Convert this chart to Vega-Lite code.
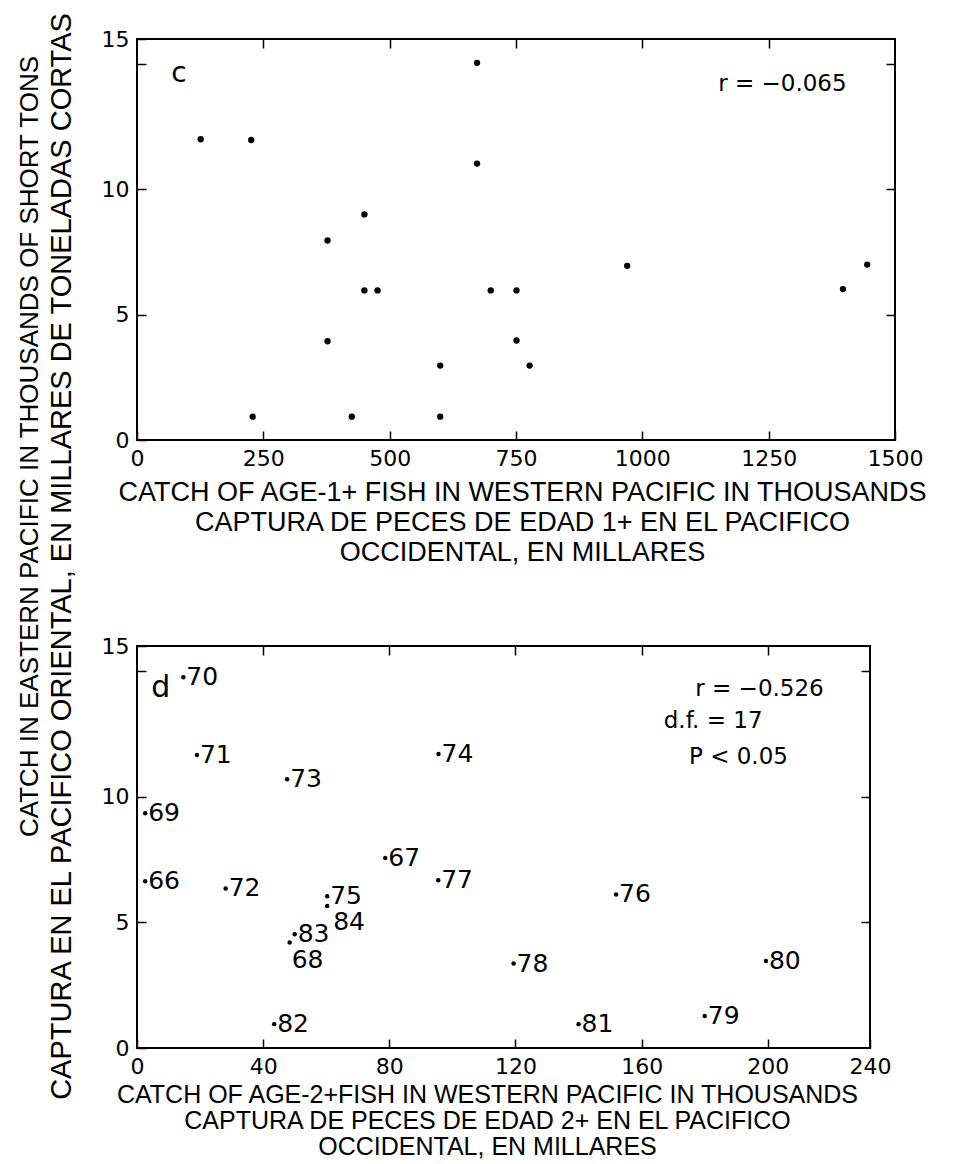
{
  "$schema": "https://vega.github.io/schema/vega-lite/v6.json",
  "background": "white",
  "autosize": {"type": "pad"},
  "padding": {"left": 14, "top": 10, "right": 0, "bottom": 0},
  "config": {
    "view": {"stroke": "black", "strokeWidth": 2},
    "axis": {
      "grid": false, "domain": false, "tickColor": "black", "tickSize": -9, "tickWidth": 1.5,
      "labelPadding": 17, "labelFont": "DejaVu Sans", "labelFontSize": 22, "labelColor": "black", "format": "d",
      "labelFlush": false,
      "titleFont": "Liberation Sans", "titleFontWeight": "normal", "titleColor": "black"
    },
    "text": {"font": "DejaVu Sans", "color": "black"}
  },
  "datasets": {
    "top": [
      {"wp": 126, "ep": 12.0}, {"wp": 226, "ep": 11.97}, {"wp": 673, "ep": 15.05}, {"wp": 673, "ep": 11.03},
      {"wp": 450, "ep": 9.0}, {"wp": 377, "ep": 7.96}, {"wp": 970, "ep": 6.95}, {"wp": 1445, "ep": 7.0},
      {"wp": 450, "ep": 5.97}, {"wp": 476, "ep": 5.97}, {"wp": 700, "ep": 5.97}, {"wp": 751, "ep": 5.97},
      {"wp": 1397, "ep": 6.02}, {"wp": 377, "ep": 3.94}, {"wp": 751, "ep": 3.97}, {"wp": 600, "ep": 2.97},
      {"wp": 777, "ep": 2.97}, {"wp": 229, "ep": 0.93}, {"wp": 425, "ep": 0.93}, {"wp": 600, "ep": 0.93}
    ],
    "topnote": [
      {"t": "c", "x": 68, "y": 14.6},
      {"t": "r = −0.065", "x": 1150, "y": 14.2}
    ],
    "bottom": [
      {"yr": "66", "wp": 2.6, "ep": 6.64}, {"yr": "67", "wp": 78.7, "ep": 7.56},
      {"yr": "68", "wp": 48.4, "ep": 4.2}, {"yr": "69", "wp": 2.6, "ep": 9.34},
      {"yr": "70", "wp": 14.7, "ep": 14.76}, {"yr": "71", "wp": 19.0, "ep": 11.66},
      {"yr": "72", "wp": 28.1, "ep": 6.35}, {"yr": "73", "wp": 47.6, "ep": 10.7},
      {"yr": "74", "wp": 95.6, "ep": 11.7}, {"yr": "75", "wp": 60.3, "ep": 6.04},
      {"yr": "76", "wp": 151.9, "ep": 6.11}, {"yr": "77", "wp": 95.5, "ep": 6.68},
      {"yr": "78", "wp": 119.4, "ep": 3.36}, {"yr": "79", "wp": 180.0, "ep": 1.27},
      {"yr": "80", "wp": 199.4, "ep": 3.46}, {"yr": "81", "wp": 140.0, "ep": 0.95},
      {"yr": "82", "wp": 43.5, "ep": 0.95}, {"yr": "83", "wp": 50.0, "ep": 4.53},
      {"yr": "84", "wp": 60.3, "ep": 5.65}
    ],
    "botnote": [
      {"t": "d", "x": 4.5, "y": 14.34},
      {"t": "r = −0.526", "x": 177, "y": 14.3},
      {"t": "d.f. = 17", "x": 167, "y": 13.0},
      {"t": "P < 0.05", "x": 175, "y": 11.57}
    ]
  },
  "bounds": "flush",
  "spacing": 206,
  "vconcat": [
    {
      "width": 758,
      "height": 401,
      "layer": [
        {
          "data": {"name": "top"},
          "mark": {"type": "circle", "size": 40, "color": "black", "opacity": 1},
          "encoding": {
            "x": {
              "field": "wp", "type": "quantitative",
              "scale": {"domain": [0, 1500], "nice": false, "zero": false},
              "axis": {
                "orient": "bottom", "values": [0, 250, 500, 750, 1000, 1250, 1500],
                "title": ["CATCH OF AGE-1+ FISH IN WESTERN PACIFIC IN THOUSANDS", "CAPTURA DE PECES DE EDAD 1+ EN EL PACIFICO", "OCCIDENTAL, EN MILLARES"],
                "titleFontSize": 27, "titleLineHeight": 30, "titlePadding": 10, "titleX": 385, "titleAnchor": "middle"
              }
            },
            "y": {
              "field": "ep", "type": "quantitative",
              "scale": {"domain": [0, 16], "nice": false, "zero": false},
              "axis": {
                "orient": "left", "values": [0, 5, 10, 15, 16],
                "labelExpr": "datum.value == 16 ? '15' : (datum.value == 15 ? '' : datum.label)",
                "title": "CATCH IN EASTERN PACIFIC IN THOUSANDS OF SHORT TONS",
                "titleFontSize": 26, "titleX": -108, "titleY": 407, "titleAngle": 270,
                "titleAlign": "center", "titleBaseline": "middle"
              }
            }
          }
        },
        {
          "data": {"name": "topnote"},
          "mark": {"type": "text", "align": "left", "baseline": "middle", "fontSize": 23},
          "encoding": {
            "x": {
              "field": "x", "type": "quantitative",
              "scale": {"domain": [0, 1500], "nice": false, "zero": false},
              "axis": {"orient": "top", "values": [250, 500, 750, 1000, 1250], "labels": false, "title": null}
            },
            "y": {
              "field": "y", "type": "quantitative",
              "scale": {"domain": [0, 16], "nice": false, "zero": false},
              "axis": {"orient": "right", "values": [5, 10, 15], "labels": false, "title": null}
            },
            "text": {"field": "t"},
            "size": {"condition": {"test": "datum.t == 'c'", "value": 28}, "value": 23}
          }
        }
      ],
      "resolve": {"axis": {"x": "independent", "y": "independent"}}
    },
    {
      "width": 733,
      "height": 402,
      "layer": [
        {
          "data": {"name": "bottom"},
          "mark": {"type": "circle", "size": 20, "color": "black", "opacity": 1},
          "encoding": {
            "x": {
              "field": "wp", "type": "quantitative",
              "scale": {"domain": [0, 232.4], "nice": false, "zero": false},
              "axis": {
                "orient": "bottom", "values": [0, 40, 80, 120, 160, 200, 232.4],
                "labelExpr": "datum.value > 230 ? '240' : datum.label",
                "title": ["CATCH OF AGE-2+FISH IN WESTERN PACIFIC IN THOUSANDS", "CAPTURA DE PECES DE EDAD 2+ EN EL PACIFICO", "OCCIDENTAL, EN MILLARES"],
                "titleFontSize": 25, "titleLineHeight": 26, "titlePadding": 5, "titleX": 350, "titleAnchor": "middle"
              }
            },
            "y": {
              "field": "ep", "type": "quantitative",
              "scale": {"domain": [0, 16], "nice": false, "zero": false},
              "axis": {
                "orient": "left", "values": [0, 5, 10, 15, 16],
                "labelExpr": "datum.value == 16 ? '15' : (datum.value == 15 ? '' : datum.label)",
                "title": "CAPTURA EN EL PACIFICO ORIENTAL, EN MILLARES DE TONELADAS CORTAS",
                "titleFontSize": 29, "titleX": -76, "titleY": -90, "titleAngle": 270,
                "titleAlign": "center", "titleBaseline": "middle"
              }
            }
          }
        },
        {
          "data": {"name": "bottom"},
          "transform": [{"filter": "datum.yr != '84' && datum.yr != '68'"}],
          "mark": {"type": "text", "align": "left", "baseline": "middle", "fontSize": 25, "dx": 3},
          "encoding": {
            "x": {
              "field": "wp", "type": "quantitative",
              "scale": {"domain": [0, 232.4], "nice": false, "zero": false},
              "axis": {"orient": "top", "values": [40, 80, 120, 160, 200], "labels": false, "title": null}
            },
            "y": {
              "field": "ep", "type": "quantitative",
              "scale": {"domain": [0, 16], "nice": false, "zero": false},
              "axis": {"orient": "right", "values": [5, 10, 15], "labels": false, "title": null}
            },
            "text": {"field": "yr"}
          }
        },
        {
          "data": {"name": "bottom"},
          "transform": [{"filter": "datum.yr == '84'"}],
          "mark": {"type": "text", "align": "left", "baseline": "middle", "fontSize": 25, "dx": 6, "dy": 16},
          "encoding": {
            "x": {"field": "wp", "type": "quantitative", "scale": {"domain": [0, 232.4], "nice": false, "zero": false}, "axis": null},
            "y": {"field": "ep", "type": "quantitative", "scale": {"domain": [0, 16], "nice": false, "zero": false}, "axis": null},
            "text": {"field": "yr"}
          }
        },
        {
          "data": {"name": "bottom"},
          "transform": [{"filter": "datum.yr == '68'"}],
          "mark": {"type": "text", "align": "left", "baseline": "middle", "fontSize": 25, "dx": 2, "dy": 18},
          "encoding": {
            "x": {"field": "wp", "type": "quantitative", "scale": {"domain": [0, 232.4], "nice": false, "zero": false}, "axis": null},
            "y": {"field": "ep", "type": "quantitative", "scale": {"domain": [0, 16], "nice": false, "zero": false}, "axis": null},
            "text": {"field": "yr"}
          }
        },
        {
          "data": {"name": "botnote"},
          "mark": {"type": "text", "align": "left", "baseline": "middle", "fontSize": 23},
          "encoding": {
            "x": {"field": "x", "type": "quantitative", "scale": {"domain": [0, 232.4], "nice": false, "zero": false}, "axis": null},
            "y": {"field": "y", "type": "quantitative", "scale": {"domain": [0, 16], "nice": false, "zero": false}, "axis": null},
            "text": {"field": "t"},
            "size": {"condition": {"test": "datum.t == 'd'", "value": 30}, "value": 23}
          }
        }
      ],
      "resolve": {"axis": {"x": "independent", "y": "independent"}}
    }
  ]
}
